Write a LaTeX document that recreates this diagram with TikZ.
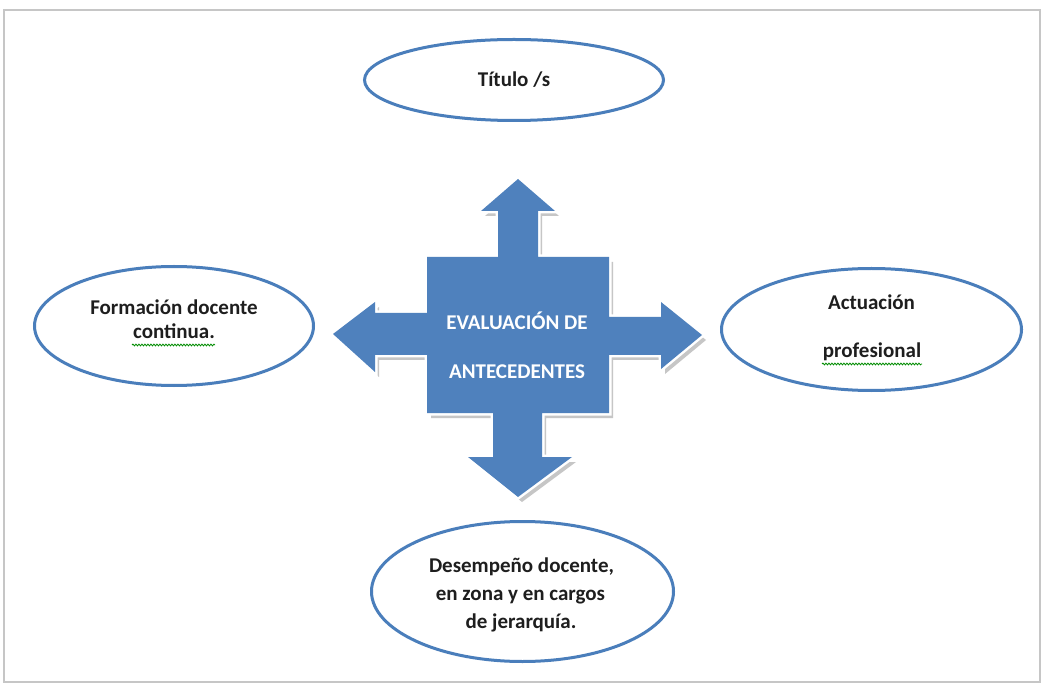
\documentclass[tikz,border=0pt]{standalone}
\usepackage{fontspec}
\setmainfont{Carlito}
\usetikzlibrary{shapes.geometric,decorations.pathmorphing}
\definecolor{offblue}{HTML}{4F81BD}
\definecolor{ringblue}{HTML}{4A7EBB}
\definecolor{txt}{HTML}{1E1E1E}
\newcommand\xcrosspath{(518,179) -- (555,211) -- (538,211) -- (538,257) -- (609,257) -- (609,317) -- (661,317) -- (661,302) -- (702,335) -- (661,369) -- (661,355) -- (609,355) -- (609,413) -- (542,413) -- (542,457) -- (572,457) -- (518,497) -- (468,457) -- (493,457) -- (493,413) -- (427,413) -- (427,355) -- (375,355) -- (375,372) -- (333,334) -- (375,302) -- (375,313) -- (427,313) -- (427,257) -- (498,257) -- (498,211) -- (481,211) -- cycle}
\begin{document}
\begin{tikzpicture}[x=1pt,y=-1pt,
  oval/.style={draw=ringblue, line width=3pt, ellipse, inner sep=0pt},
  label/.style={anchor=base, inner sep=0pt, text=txt, font=\fontsize{21}{25}\selectfont\bfseries},
  wlabel/.style={anchor=base, inner sep=0pt, text=white, font=\fontsize{21}{25}\selectfont\bfseries},
  squiggle/.style={draw=green!55!black, line width=0.8pt, decorate, decoration={snake, segment length=3pt, amplitude=0.9pt}}]
\useasboundingbox (0,0) rectangle (1041,684);
\fill[white] (0,0) rectangle (1041,684);
\draw[gray!45, line width=1.2pt] (4,10) rectangle (1040,682);
% central cross of arrows
\fill[gray!45, shift={(4,5)}] \xcrosspath;
\draw[white, line width=5pt, line join=miter, fill=offblue] \xcrosspath;
\fill[offblue] \xcrosspath;
\node[wlabel] (c1) at (517,330) {EVALUACIÓN DE};
\node[wlabel] (c2) at (517,378) {ANTECEDENTES};
% ellipses
\node[oval, minimum width=299pt, minimum height=81pt] (top) at (514,80) {};
\node[oval, minimum width=279pt, minimum height=119pt] (left) at (174,326) {};
\node[oval, minimum width=300pt, minimum height=122pt] (right) at (871.5,329.5) {};
\node[oval, minimum width=302pt, minimum height=140pt] (bottom) at (522.5,591.5) {};
% texts
\node[label] (t1) at (514,87) {Título /s};
\node[label] (l1) at (174,315) {Formación docente};
\node[label] (l2) at (174,338) {continua.};
\node[label] (r1) at (871.5,310) {Actuación};
\node[label] (r2) at (872,357) {profesional};
\node[label] (b1) at (521.5,572) {Desempeño docente,};
\node[label] (b2) at (520.5,600) {en zona y en cargos};
\node[label] (b3) at (521,628) {de jerarquía.};
% spell-check underlines
\coordinate (sq1a) at (132,345);
\coordinate (sq1b) at (215,345);
\coordinate (sq2a) at (822,364);
\coordinate (sq2b) at (922,364);
\path[squiggle] (sq1a) -- (sq1b);
\path[squiggle] (sq2a) -- (sq2b);
\end{tikzpicture}
\end{document}
